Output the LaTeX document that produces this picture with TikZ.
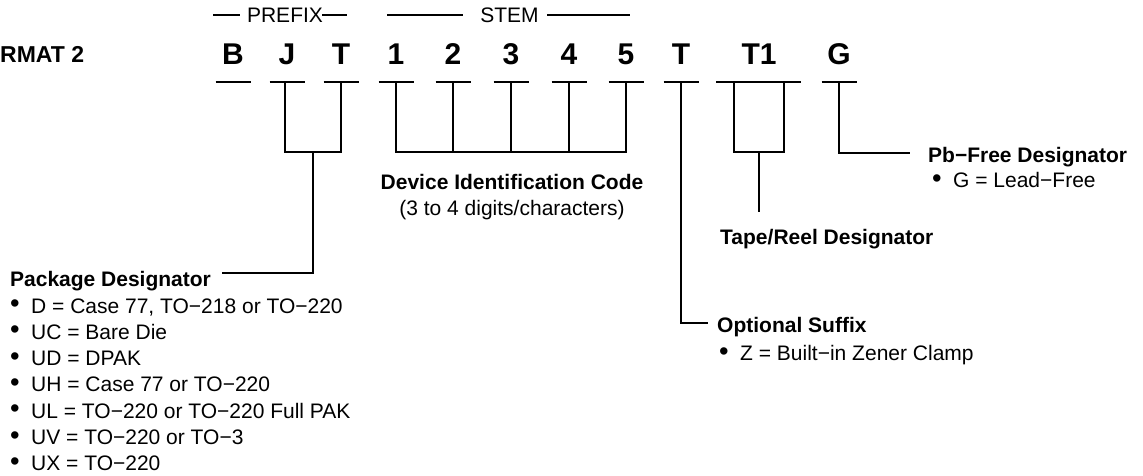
\documentclass[tikz,border=0pt]{standalone}
\usepackage{fontspec}
\setmainfont{Liberation Sans}
\begin{document}
\begin{tikzpicture}[x=1pt,y=-1pt,
  big/.style={font=\fontsize{30}{30}\bfseries\selectfont, anchor=base, inner sep=0pt},
  txt/.style={font=\fontsize{21}{21}\selectfont, anchor=base west, inner sep=0pt},
  ctxt/.style={font=\fontsize{21}{21}\selectfont, anchor=base, inner sep=0pt},
  btxt/.style={font=\fontsize{21}{21}\bfseries\selectfont, anchor=base west, inner sep=0pt},
  cbtxt/.style={font=\fontsize{21}{21}\bfseries\selectfont, anchor=base, inner sep=0pt},
  ln/.style={line width=1.4pt},
  ul/.style={line width=1.4pt}]
\useasboundingbox (0,0) rectangle (1143,476);
\newcommand{\bl}[3]{\node[txt] at (#1,#2) {\makebox[22pt][l]{\hspace{1pt}\raisebox{0.5pt}{\scalebox{1.3}{•}}}#3};}

% title
\node[font=\fontsize{23}{23}\bfseries\selectfont, anchor=base west, inner sep=0pt] (fmt) at (0,62.5) {RMAT 2};

% group headings
\node[ctxt] (prefix) at (285,22.5) {PREFIX};
\node[ctxt] (stem) at (509.5,22.5) {STEM};
\coordinate (pl1) at (213,15); \coordinate (pl2) at (240,15);
\coordinate (pr1) at (322,15); \coordinate (pr2) at (347,15);
\coordinate (sl1) at (387,15); \coordinate (sl2) at (463,15);
\coordinate (sr1) at (547,15); \coordinate (sr2) at (630,15);
\draw[ul] (pl1) -- (pl2);
\draw[ul] (pr1) -- (pr2);
\draw[ul] (sl1) -- (sl2);
\draw[ul] (sr1) -- (sr2);

% code characters
\node[big] (cB) at (233,65) {B};
\node[big] (cJ) at (287,65) {J};
\node[big] (cT) at (341,65) {T};
\node[big] (c1) at (396,65) {1};
\node[big] (c2) at (453,65) {2};
\node[big] (c3) at (511,65) {3};
\node[big] (c4) at (569,65) {4};
\node[big] (c5) at (626,65) {5};
\node[big] (cS) at (681,65) {T};
\node[big] (cR) at (759,65) {T1};
\node[big] (cG) at (839,65) {G};

% underlines
\foreach \x in {233,287,341,396,453,511,569,626,681,839}{
  \draw[ul] (\x-17.5,82) -- (\x+17.5,82);
}
\draw[ul] (716,82) -- (801,82);

% prefix bracket
\coordinate (jt) at (313,152);
\draw[ln] (285,82) -- (285,152) -- (341,152) -- (341,82);
\coordinate (pk) at (222,273);
\draw[ln] (jt) -- (313,273) -- (pk);

% stem bracket
\draw[ln] (396,82) -- (396,152) -- (626,152) -- (626,82);
\foreach \x in {453,511,569}{ \draw[ln] (\x,82) -- (\x,152); }

% suffix
\coordinate (os) at (708,323);
\draw[ln] (681,82) -- (681,323) -- (os);

% tape/reel
\coordinate (tr) at (759,212);
\draw[ln] (734,82) -- (734,152) -- (784,152) -- (784,82);
\draw[ln] (759,152) -- (tr);

% pb-free
\coordinate (pb) at (910,153);
\draw[ln] (839,82) -- (839,153) -- (pb);

% texts
\node[btxt] (pkg) at (10,286.5) {Package Designator};
\bl{9}{313}{D = Case 77, TO−218 or TO−220}
\bl{9}{339.3}{UC = Bare Die}
\bl{9}{365.6}{UD = DPAK}
\bl{9}{391.9}{UH = Case 77 or TO−220}
\bl{9}{418.2}{UL = TO−220 or TO−220 Full PAK}
\bl{9}{444.5}{UV = TO−220 or TO−3}
\bl{9}{470.8}{UX = TO−220}

\node[cbtxt] (dic) at (512,189.5) {Device Identification Code};
\node[ctxt] (dic2) at (512,215.5) {(3 to 4 digits/characters)};

\node[btxt] (tape) at (720,244.5) {Tape/Reel Designator};

\node[btxt] (opt) at (717,332.5) {Optional Suffix};
\bl{718}{360.5}{Z = Built−in Zener Clamp}

\node[btxt] (pbf) at (928,162.5) {Pb−Free Designator};
\bl{931}{187.5}{G = Lead−Free}
\end{tikzpicture}
\end{document}
